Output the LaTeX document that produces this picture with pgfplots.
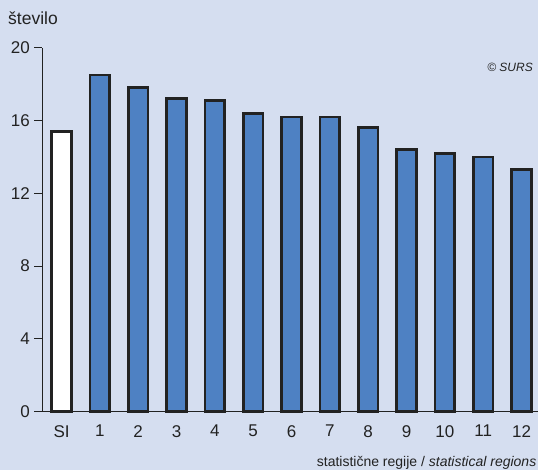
\documentclass[border=0pt]{standalone}
\usepackage{pgfplots}
\pgfplotsset{compat=1.18}
\usepackage{fontspec}
\setmainfont{Liberation Sans}
\definecolor{bg}{RGB}{213,222,240}
\definecolor{barblue}{RGB}{78,129,195}
\definecolor{edge}{RGB}{34,34,34}
\begin{document}
\begin{tikzpicture}[x=1pt,y=1pt]
\useasboundingbox (0,0) rectangle (538,470);
\fill[bg] (0,0) rectangle (538,470);
\begin{axis}[
  at={(42pt,58.3pt)}, anchor=south west,
  scale only axis, width=496pt, height=364pt,
  xmin=-0.51, xmax=12.43, ymin=0, ymax=20,
  axis x line=bottom, axis y line=left,
  axis line style={-, line width=0.9pt, edge},
  xtick={0,...,12},
  xticklabels={SI,1,2,3,4,5,6,7,8,9,10,11,12},
  ytick={0,4,8,12,16,20},
  xtick style={draw=none},
  ytick style={line width=0.9pt, edge},
  ytick align=outside,
  major tick length=8pt,
  /pgf/number format/assume math mode=true,
  tick label style={font=\fontsize{17}{17}\selectfont, text=edge},
  yticklabel style={inner xsep=4pt},
  xticklabel style={yshift=-6pt},
  clip=false,
]
\addplot[ybar, bar width=19.5pt, fill=white, draw=edge, line width=2.6pt] coordinates {(0,15.4)};
\addplot[ybar, bar width=19.5pt, fill=barblue, draw=edge, line width=2.6pt] coordinates {
(1,18.5) (2,17.8) (3,17.2) (4,17.1) (5,16.4) (6,16.2) (7,16.2) (8,15.6) (9,14.4) (10,14.2) (11,14.0) (12,13.3)};
\end{axis}
\node[anchor=base west, inner sep=0, text=edge, font=\fontsize{17.5}{17.5}\selectfont] at (8,445) {število};
\node[anchor=base east, inner sep=0, text=edge, font=\fontsize{12}{12}\selectfont\itshape] at (533,398) {© SURS};
\node[anchor=base east, inner sep=0, text=edge, font=\fontsize{14}{14}\selectfont] at (536.5,3.5) {statistične regije / \textit{statistical regions}};
\end{tikzpicture}
\end{document}
